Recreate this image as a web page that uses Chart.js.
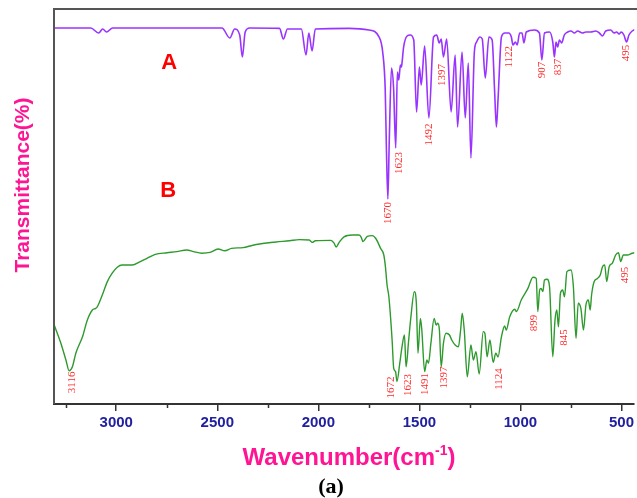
<!DOCTYPE html>
<html><head><meta charset="utf-8">
<script src="https://cdn.jsdelivr.net/npm/chart.js@4.4.0/dist/chart.umd.min.js"></script>
<style>html,body{margin:0;padding:0;background:#fff;}#wrap{width:637px;height:498px;}</style>
</head><body><div id="wrap"><canvas id="c" width="637" height="498"></canvas></div>
<script>
// ---- Spectrum A (purple) ----
const wavenumA = [3304,3126,3087,3067,3048,3018,2477,2438,2414,2389,2376,2362,2340,2192,2173,2153,2084,2061,2047,2031,2015,1848,1750,1700,1681,1669,1663,1656,1649,1638,1628,1617,1609,1602,1594,1589,1586,1578,1561,1545,1528,1514,1500,1491,1474,1453,1430,1414,1402,1392,1381,1365,1343,1323,1311,1289,1273,1258,1245,1228,1217,1200,1189,1174,1156,1140,1128,1119,1111,1094,1077,1058,1045,1037,1025,1016,1004,992,983,971,930,906,894,881,856,840,832,824,816,807,796,783,766,750,733,717,693,676,652,627,610,594,578,553,537,524,512,501,488,475,463,447,422];
const transA = [94,94,92.75,93.75,93,94,94,91.5,93.75,92.25,86.75,93,94,93.9,91.25,93.75,93.75,87.25,92.75,88.25,93.75,93.9,93.5,91.8,87.75,78.5,63.5,51.25,66,84,79.25,64,83,81,84.75,84.25,85.25,89.25,92,92.25,91,73,84.25,79.75,89.5,71.5,91.75,92.25,90.25,91.25,86.75,91.25,73,87.25,69.25,88,71.5,85.25,61.5,88,90.5,91.75,91.25,81.5,91.75,91,78.5,69.25,76,91.75,92.75,92.75,91.75,89.75,90.5,89.75,92.75,92.75,90.25,93,93.5,92.75,86,92.75,93,90.5,86.75,90.5,89.25,91,90.25,92.25,93,93.25,92.75,93.25,92.75,93,93,93.25,92.75,92,93.25,93.5,92.75,93,92.5,93,92.25,90.5,92.25,93.25,93.75];

// ---- Spectrum B (green) ----
const wavenumB = [3307,3274,3249,3233,3217,3200,3167,3143,3118,3102,3094,3069,3044,3020,2995,2971,2921,2881,2848,2807,2749,2700,2651,2618,2577,2536,2496,2463,2430,2373,2324,2291,2209,2143,2094,2045,2030,2015,1938,1922,1912,1897,1873,1832,1799,1789,1779,1758,1733,1714,1692,1676,1668,1660,1651,1635,1627,1618,1611,1597,1586,1574,1566,1553,1542,1525,1515,1507,1495,1488,1474,1463,1455,1443,1427,1417,1409,1401,1392,1381,1368,1351,1340,1323,1307,1296,1288,1278,1263,1245,1233,1220,1204,1184,1176,1165,1151,1135,1122,1111,1094,1078,1070,1053,1028,1020,996,963,938,922,914,905,898,889,881,868,856,840,829,820,812,802,791,782,770,750,738,725,714,701,688,676,664,655,648,635,619,605,594,583,573,561,545,529,515,504,491,471,447,422];
const transB = [19.75,15.2,11,8.3,9.3,12.7,16.8,21,23.5,23.9,24.3,27.25,30.6,32.7,34.2,34.75,34.75,35.6,36.4,37.4,37.8,38.1,38.5,38.1,37.7,37.9,38.75,38.3,38.9,39.1,39.7,40,40.5,40.8,41.1,41,40.4,40.8,40.9,40.2,39.25,40.4,41.8,42.25,42.25,41.8,40.6,41.9,42.1,41.25,38.9,37.25,34.3,29.75,26.8,16,8.9,8.1,5.6,10.2,14.3,17.25,9.3,16,21.8,28.1,25.2,12.7,21.4,18.5,8.1,11,10.2,15.2,21.4,19.75,20.2,18.5,9.3,15.2,17.7,17.25,16,14.75,14.3,18.5,22.7,18.5,6.8,14.75,11,13.1,7.5,18.1,17.7,11.8,16,10.4,12.7,11.75,16.8,19.5,18.5,21.8,23.7,23.1,26,28.9,31.7,31.4,23.1,28.5,28.9,28.1,31,31.2,29.3,11.8,21,23.5,19.3,27.7,28.5,26.8,33.1,33.5,29.3,16.4,25.2,23.9,18.5,24.75,26,23.5,27.25,30.6,31.4,32.25,34.3,34.75,30.6,34.3,35.2,37.25,37.8,35.6,37.25,37.25,37.7,37.9];

// ---- Peak annotations (text, wavenumber, transmittance of label centre) ----
const peakTextA = ['1670','1623','1492','1397','1122','907','837','495'];
const peakXA    = [1656,1599,1451,1386,1058,894,815,478];
const peakYA    = [47.75,60.25,67.4,82.25,86.8,83.5,84.25,87.75];
const peakTextB = ['3116','1672','1623','1491','1397','1124','899','845','495'];
const peakXB    = [3217,1640,1558,1471,1376,1107,930,786,480];
const peakYB    = [5.4,4.1,4.75,5,6.6,6.25,20.25,16.6,32.25];
const seriesNames = ['A','B'];
const seriesNameX = [2738,2743];
const seriesNameY = [85.25,53.25];

const majorTicks = [3000,2500,2000,1500,1000,500];
const minorTicks = [3250,2750,2250,1750,1250,750];
const xMin = 437, xMax = 3308;

const toPts = (xs, ys) => xs.map((x, i) => ({x, y: ys[i]}));

const decor = {
  id: 'decor',
  afterDraw(chart) {
    const {ctx, chartArea: a, scales: {x, y}} = chart;
    ctx.save();
    // frame: left and top
    ctx.strokeStyle = '#555';
    ctx.lineWidth = 2;
    ctx.beginPath();
    ctx.moveTo(a.left, a.bottom);
    ctx.lineTo(a.left, a.top);
    ctx.lineTo(chart.width, a.top);
    ctx.stroke();
    // minor ticks
    ctx.strokeStyle = '#333';
    ctx.lineWidth = 1.5;
    minorTicks.forEach(v => {
      const px = Math.round(x.getPixelForValue(v)) + 0.5;
      ctx.beginPath();
      ctx.moveTo(px, a.bottom);
      ctx.lineTo(px, a.bottom + 4);
      ctx.stroke();
    });
    // peak labels
    ctx.fillStyle = '#ff2a2a';
    ctx.font = '11px "Liberation Serif", "Times New Roman", serif';
    ctx.textAlign = 'center';
    ctx.textBaseline = 'middle';
    const drawRot = (t, xv, yv) => {
      ctx.save();
      ctx.translate(x.getPixelForValue(xv), y.getPixelForValue(yv));
      ctx.rotate(-Math.PI / 2);
      ctx.fillText(t, 0, 0);
      ctx.restore();
    };
    peakTextA.forEach((t, i) => drawRot(t, peakXA[i], peakYA[i]));
    peakTextB.forEach((t, i) => drawRot(t, peakXB[i], peakYB[i]));
    // series names
    ctx.fillStyle = '#ff0000';
    ctx.font = 'bold 22px "Liberation Sans", Arial, sans-serif';
    seriesNames.forEach((t, i) => ctx.fillText(t, x.getPixelForValue(seriesNameX[i]), y.getPixelForValue(seriesNameY[i])));
    // y title
    ctx.fillStyle = '#ff1493';
    ctx.font = 'bold 21px "Liberation Sans", Arial, sans-serif';
    ctx.save();
    ctx.translate(23, 185);
    ctx.rotate(-Math.PI / 2);
    ctx.fillText('Transmittance(%)', 0, 0);
    ctx.restore();
    // x title with superscript
    const mainFont = 'bold 24px "Liberation Sans", Arial, sans-serif';
    const supFont = 'bold 14px "Liberation Sans", Arial, sans-serif';
    const p1 = 'Wavenumber(cm', sup = '-1', p2 = ')';
    ctx.font = mainFont; const w1 = ctx.measureText(p1).width, w3 = ctx.measureText(p2).width;
    ctx.font = supFont; const w2 = ctx.measureText(sup).width;
    let sx = 349 - (w1 + w2 + w3) / 2;
    const by = 465;
    ctx.textAlign = 'left';
    ctx.textBaseline = 'alphabetic';
    ctx.font = mainFont; ctx.fillText(p1, sx, by); sx += w1;
    ctx.font = supFont; ctx.fillText(sup, sx, by - 10); sx += w2;
    ctx.font = mainFont; ctx.fillText(p2, sx, by);
    // caption
    ctx.fillStyle = '#000';
    ctx.font = 'bold 22px "Liberation Serif", "Times New Roman", serif';
    ctx.textAlign = 'center';
    ctx.textBaseline = 'middle';
    ctx.fillText('(a)', 331, 487);
    ctx.restore();
  }
};

new Chart(document.getElementById('c'), {
  type: 'line',
  data: {
    datasets: [
      {label: 'A', data: toPts(wavenumA, transA), borderColor: '#9933ff', borderWidth: 1.6, pointRadius: 0, fill: false, cubicInterpolationMode: 'monotone'},
      {label: 'B', data: toPts(wavenumB, transB), borderColor: '#2e9a2e', borderWidth: 1.4, pointRadius: 0, fill: false, cubicInterpolationMode: 'monotone'}
    ]
  },
  options: {
    responsive: false,
    animation: false,
    devicePixelRatio: 1,
    layout: {padding: {left: 54, top: 9, right: 0, bottom: 0}},
    plugins: {legend: {display: false}, tooltip: {enabled: false}},
    scales: {
      x: {
        type: 'linear', reverse: true, min: xMin, max: xMax,
        afterBuildTicks: s => { s.ticks = majorTicks.map(v => ({value: v})); },
        afterFit: s => { s.height = 94; },
        grid: {drawOnChartArea: false, drawTicks: true, tickLength: 7, color: '#333', lineWidth: 1.5},
        border: {display: true, color: '#333', width: 2},
        ticks: {autoSkip: false, maxRotation: 0, padding: 3, color: '#2020a0',
          callback: v => String(v),
          font: {family: '"Liberation Sans", Arial, sans-serif', size: 15, weight: 'bold'}}
      },
      y: {display: false, min: 0, max: 98.75}
    }
  },
  plugins: [decor]
});
</script>
</body></html>
